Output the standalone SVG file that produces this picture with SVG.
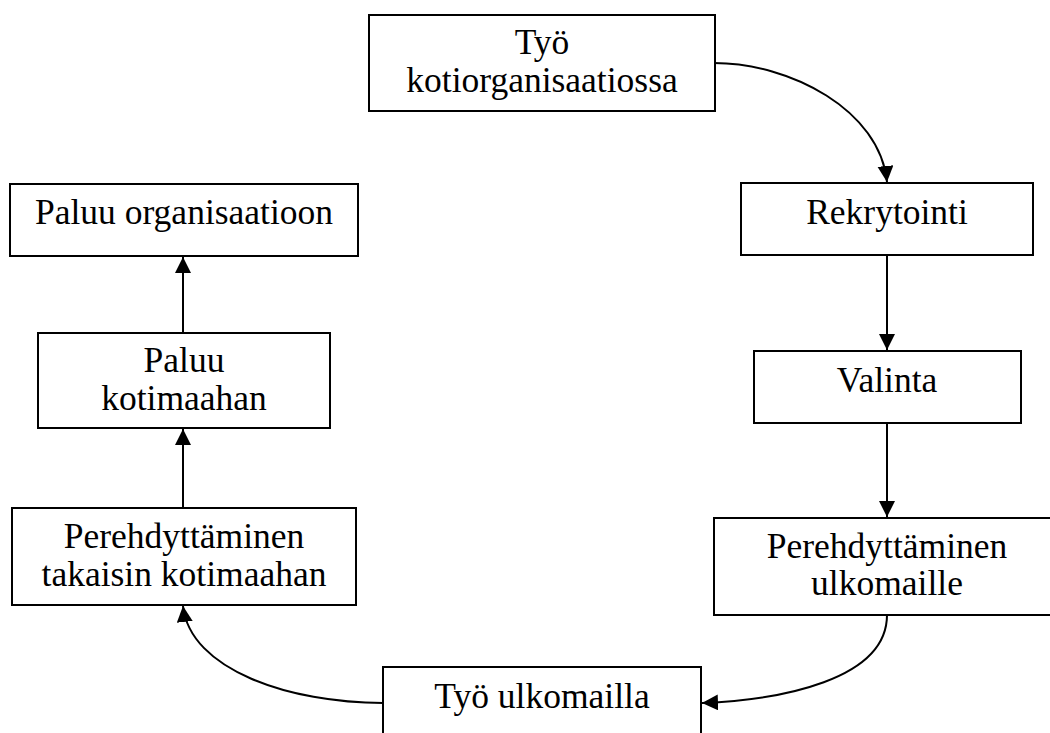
<svg xmlns="http://www.w3.org/2000/svg" width="1050" height="733" viewBox="0 0 1050 733">
<style>
.box{fill:#fff;stroke:#000;stroke-width:2}
.t{font-family:"Liberation Serif","Times New Roman",serif;font-size:35.5px;fill:#000;text-anchor:middle}
.c{fill:none;stroke:#000;stroke-width:2}
</style>
<defs>
<marker id="ah" markerUnits="userSpaceOnUse" markerWidth="18" markerHeight="18" refX="16" refY="8" orient="auto">
<path d="M0,0 L16,8 L0,16 z" fill="#000"/>
</marker>
</defs>
<rect width="1050" height="733" fill="#fff"/>
<g id="connectors">
<path class="c" d="M714,63 C790,63 880,110 887,182" marker-end="url(#ah)"/>
<path class="c" d="M887,255 L887,350" marker-end="url(#ah)"/>
<path class="c" d="M887,423 L887,517" marker-end="url(#ah)"/>
<path class="c" d="M887,615 C887,680 780,700 702,703" marker-end="url(#ah)"/>
<path class="c" d="M383,703 C290,703 190,670 183,606" marker-end="url(#ah)"/>
<path class="c" d="M183,508 L183,429" marker-end="url(#ah)"/>
<path class="c" d="M183,333 L183,257" marker-end="url(#ah)"/>
</g>
<g id="n1"><rect class="box" x="369" y="15" width="346" height="96"/>
<text class="t" x="542" y="54">Työ</text><text class="t" x="542" y="92">kotiorganisaatiossa</text></g>
<g id="n2"><rect class="box" x="741" y="183" width="292" height="72"/>
<text class="t" x="887" y="224">Rekrytointi</text></g>
<g id="n3"><rect class="box" x="754" y="351" width="267" height="72"/>
<text class="t" x="887" y="392">Valinta</text></g>
<g id="n4"><rect class="box" x="714" y="518" width="350" height="97"/>
<text class="t" x="887" y="558">Perehdyttäminen</text><text class="t" x="887" y="595">ulkomaille</text></g>
<g id="n5"><rect class="box" x="383" y="667" width="318" height="80"/>
<text class="t" x="542" y="708">Työ ulkomailla</text></g>
<g id="n6"><rect class="box" x="12" y="508" width="344" height="97"/>
<text class="t" x="184" y="548">Perehdyttäminen</text><text class="t" x="184" y="586">takaisin kotimaahan</text></g>
<g id="n7"><rect class="box" x="38" y="333" width="292" height="95"/>
<text class="t" x="184" y="372">Paluu</text><text class="t" x="184" y="410">kotimaahan</text></g>
<g id="n8"><rect class="box" x="10" y="184" width="348" height="72"/>
<text class="t" x="184" y="224">Paluu organisaatioon</text></g>
</svg>
